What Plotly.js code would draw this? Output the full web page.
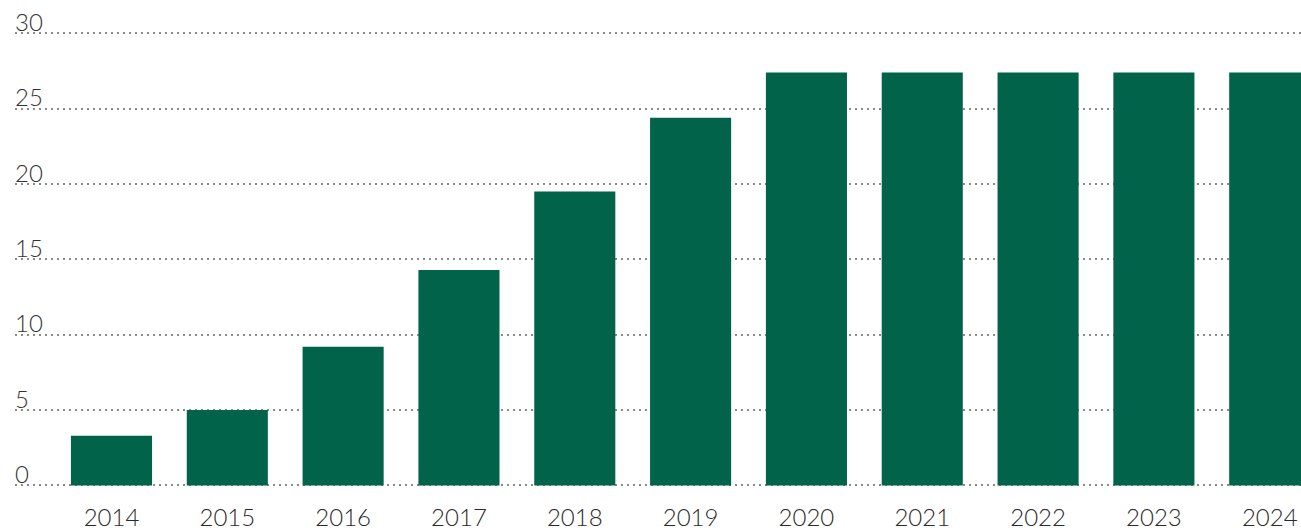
<!DOCTYPE html>
<html>
<head>
<meta charset="utf-8">
<script src="https://cdn.plot.ly/plotly-3.0.1.min.js"></script>
<style>html,body{margin:0;padding:0;background:#fff;}#chart{width:1301px;height:531px;}</style>
</head>
<body>
<div id="chart"></div>
<script>
const years = ["2014","2015","2016","2017","2018","2019","2020","2021","2022","2023","2024"];
const values = [3.3, 5.0, 9.2, 14.3, 19.5, 24.4, 27.4, 27.4, 27.4, 27.4, 27.4];
const yTicks = [0, 5, 10, 15, 20, 25, 30];

const fontFam = "Lato, 'Open Sans', sans-serif";

Plotly.newPlot('chart', [{
  type: 'bar',
  x: years,
  y: values,
  marker: {color: '#00634a'},
  hoverinfo: 'x+y'
}], {
  width: 1301,
  height: 531,
  margin: {l: 15, r: 0, t: 0, b: 32},
  paper_bgcolor: '#ffffff',
  plot_bgcolor: '#ffffff',
  bargap: 0.3,
  showlegend: false,
  xaxis: {
    type: 'category',
    range: [-0.833, 10.27],
    showgrid: false,
    zeroline: false,
    showline: false,
    ticks: '',
    tickfont: {family: fontFam, size: 24, color: '#2a2a2a', weight: 300},
    ticklabelstandoff: 2
  },
  yaxis: {
    range: [-0.9, 32.21],
    tickvals: yTicks,
    ticktext: yTicks.map(String),
    showgrid: true,
    gridcolor: '#8a8a8a',
    gridwidth: 2,
    griddash: '2px,4px',
    zeroline: false,
    showline: false,
    ticks: '',
    ticklabelposition: 'inside top',
    ticklabelstandoff: -3,
    ticklabelshift: 6,
    tickfont: {family: fontFam, size: 24, color: '#333333', weight: 300}
  }
}, {displayModeBar: false, staticPlot: true});
</script>
</body>
</html>
